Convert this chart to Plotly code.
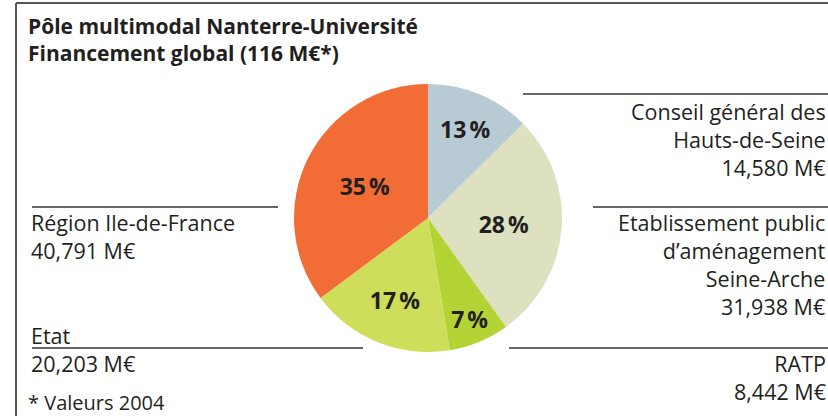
import plotly.graph_objects as go

# Data
funders = ["Conseil général des Hauts-de-Seine",
           "Etablissement public d'aménagement Seine-Arche",
           "RATP", "Etat", "Région Ile-de-France"]
amounts = [14.580, 31.938, 8.442, 20.203, 40.791]  # M€
amount_labels = ["14,580 M€", "31,938 M€", "8,442 M€", "20,203 M€", "40,791 M€"]
colors = ["#b8cbd5", "#dde1c0", "#b4d334", "#cedd5a", "#f26c36"]

total = sum(amounts)
pct_text = [f"{round(a / total * 100)}\u202f%" for a in amounts]

W, H = 828, 416
FONT = "Open Sans"
TXT = "#231f20"


def px(x):
    return x / W


def py(y):
    return 1 - y / H


fig = go.Figure(go.Pie(
    labels=funders,
    values=amounts,
    text=pct_text,
    textinfo="text",
    textposition="inside",
    insidetextorientation="horizontal",
    sort=False,
    direction="clockwise",
    rotation=0,
    marker=dict(colors=colors, line=dict(width=0)),
    textfont=dict(family=FONT, size=23, color=TXT, weight="bold"),
    hoverinfo="label+value+percent",
    showlegend=False,
    domain=dict(x=[px(428 - 134), px(428 + 134)], y=[py(352), py(84)]),
))

shapes = []
# frame
shapes.append(dict(type="line", xref="paper", yref="paper",
                   x0=px(16), x1=px(840), y0=py(3), y1=py(3),
                   line=dict(color="#555", width=2)))
shapes.append(dict(type="line", xref="paper", yref="paper",
                   x0=px(16), x1=px(16), y0=py(3), y1=py(420),
                   line=dict(color="#555", width=2)))
# separators
for x0, x1, y in [(523, 840, 94), (593, 840, 207), (509, 840, 348),
                  (32, 278, 207), (32, 363, 348)]:
    shapes.append(dict(type="line", xref="paper", yref="paper",
                       x0=px(x0), x1=px(x1), y0=py(y), y1=py(y),
                       line=dict(color="#333", width=1.5)))

annotations = []


def add_text(lines, x, y, anchor, size=21.5, bold=False):
    annotations.append(dict(
        text="<br>".join(lines), x=px(x), y=py(y), xref="paper", yref="paper",
        xanchor=anchor, yanchor="middle", align=anchor, showarrow=False,
        font=dict(family=FONT, size=size, color=TXT,
                  weight="bold" if bold else "normal")))


# title
add_text(["Pôle multimodal Nanterre-Université",
          "Financement global (116 M€*)"], 26, 39.5, "left", 21, True)

# right labels
right_x = 828
add_text(["Conseil général des", "Hauts-de-Seine", amount_labels[0]],
         right_x, 139, "right")
add_text(["Etablissement public", "d’aménagement", "Seine-Arche", amount_labels[1]],
         right_x, 264, "right")
add_text(["RATP", amount_labels[2]], right_x, 377, "right")

# left labels
add_text(["Région Ile-de-France", amount_labels[4]], 29, 236, "left")
add_text(["Etat", amount_labels[3]], 29, 349, "left")
add_text(["* Valeurs 2004"], 26, 402, "left", 20)

fig.update_layout(
    width=W, height=H,
    margin=dict(l=0, r=0, t=0, b=0),
    paper_bgcolor="white",
    plot_bgcolor="white",
    shapes=shapes,
    annotations=annotations,
)

fig.write_html("out.html",
               config={"displayModeBar": False},
               post_script="document.body.style.margin='0';document.body.style.overflow='hidden';")
